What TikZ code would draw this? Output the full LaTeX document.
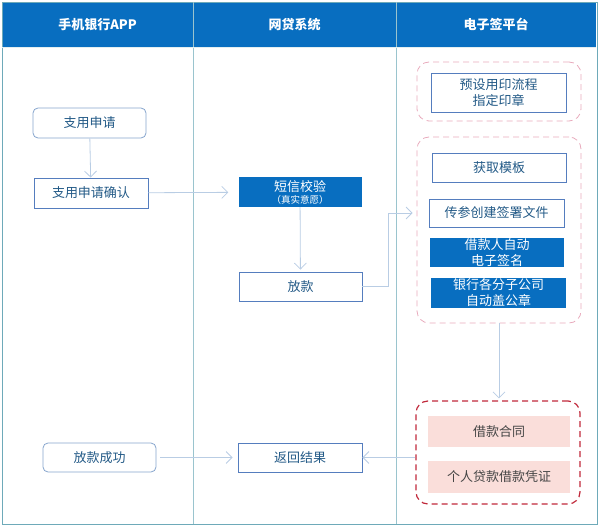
\documentclass[tikz,border=0pt]{standalone}
\usepackage{fontspec}
\setmainfont{Noto Sans CJK SC}
\usepackage{tikz}
\usetikzlibrary{positioning,arrows.meta}

\definecolor{hdrblue}{RGB}{8,110,192}
\definecolor{lanecol}{RGB}{110,170,185}
\definecolor{boxline}{RGB}{85,125,190}
\definecolor{roundline}{RGB}{135,165,205}
\definecolor{txtcol}{RGB}{35,90,135}
\definecolor{arrcol}{RGB}{185,205,228}
\definecolor{pinkdash}{RGB}{232,170,188}
\definecolor{reddash}{RGB}{192,40,58}
\definecolor{pinkfill}{RGB}{250,222,218}
\definecolor{pinktxt}{RGB}{70,70,70}

\begin{document}
\begin{tikzpicture}[x=1pt,y=-1pt,>={Straight Barb[length=6pt,width=12pt]}]
\tikzstyle{rbox} = [draw=roundline, thick, rounded corners=5pt, fill=white, text=txtcol, inner sep=0pt, font=\fontsize{13}{16}\selectfont]
\tikzstyle{sbox} = [draw=boxline, thick, fill=white, text=txtcol, inner sep=0pt, align=center, font=\fontsize{13}{16}\selectfont]
\tikzstyle{bbox} = [fill=hdrblue, text=white, inner sep=0pt, align=center, font=\fontsize{13}{16}\selectfont]
\tikzstyle{pbox} = [fill=pinkfill, text=pinktxt, inner sep=0pt, font=\fontsize{13}{16}\selectfont]
\tikzstyle{grp} = [draw=pinkdash, thick, dash pattern=on 6pt off 4pt, rounded corners=12pt, inner sep=0pt]
\tikzstyle{hdr} = [text=white, font=\fontsize{13}{16}\selectfont\bfseries]
\tikzstyle{lnk} = [draw=arrcol, thick]

\useasboundingbox (0,0) rectangle (600,527);

% lanes
\fill[hdrblue] (2,2) rectangle (596,47);
\draw[lanecol, thick] (2,2) rectangle (597,524);
\draw[lanecol!70, thick] (193,2) -- (193,524);
\draw[lanecol!70, thick] (396,2) -- (396,524);
\draw[white!80!lanecol] (2,47.5) -- (596,47.5);
\node[hdr] (H1) at (97.5,24.5) {手机银行APP};
\node[hdr] (H2) at (294.5,24.5) {网贷系统};
\node[hdr] (H3) at (496,24.5) {电子签平台};

% groups
\node[grp, minimum width=164pt, minimum height=59pt] (G1) at (499,91.5) {};
\node[grp, minimum width=164pt, minimum height=186pt] (G2) at (499,230) {};
\node[grp, draw=reddash, very thick, minimum width=164pt, minimum height=103pt] (G3) at (498,452.5) {};

% app
\node[rbox, minimum width=113pt, minimum height=30pt] (A1) at (89.5,123) {支用申请};
\node[sbox, minimum width=114pt, minimum height=30pt] (A2) at (91,193) {支用申请确认};
\node[rbox, minimum width=113pt, minimum height=29pt] (A3) at (99.5,457.5) {放款成功};

% loan system
\node[bbox, minimum width=123pt, minimum height=30pt] (B1) at (300,192)
  {\raisebox{1pt}{短信校验}\\[-5pt]{\fontsize{9.5}{10}\selectfont（真实意愿）}};
\node[sbox, minimum width=123pt, minimum height=29pt] (B2) at (300.5,286.5) {放款};
\node[sbox, minimum width=124pt, minimum height=29pt] (B3) at (300,457.5) {返回结果};

% e-sign platform
\node[sbox, minimum width=135pt, minimum height=39pt] (C1) at (498.5,92.5) {预设用印流程\\指定印章};
\node[sbox, minimum width=134pt, minimum height=29pt] (C2) at (499,167.5) {获取模板};
\node[sbox, minimum width=135pt, minimum height=28pt] (C3) at (496.5,213) {传参创建签署文件};
\node[bbox, minimum width=134pt, minimum height=29pt] (C4) at (497,252.5) {借款人自动\\电子签名};
\node[bbox, minimum width=135pt, minimum height=30pt] (C5) at (498.5,293) {银行各分子公司\\自动盖公章};
\node[pbox, minimum width=142pt, minimum height=31pt] (C6) at (499,431.5) {借款合同};
\node[pbox, minimum width=142pt, minimum height=32pt] (C7) at (499,477) {个人贷款借款凭证};

\coordinate (K1) at (388,286.5);

\draw[lnk, ->] (A1) -- (A2);
\draw[lnk, ->, shorten >=10pt] (A2) -- (B1);
\draw[lnk, ->, shorten >=2pt] (B1) -- (B2);
\draw[lnk, ->, shorten >=4pt] (B2.east) -- (K1) |- (G2.west |- C3);
\draw[lnk, ->, shorten >=2pt] (G2.south -| C7) -- (G3.north -| C7);
\draw[lnk, ->, shorten <=4pt, shorten >=5pt] (A3) -- (B3);
\draw[lnk, ->] (G3.west |- B3) -- (B3);
\end{tikzpicture}
\end{document}
